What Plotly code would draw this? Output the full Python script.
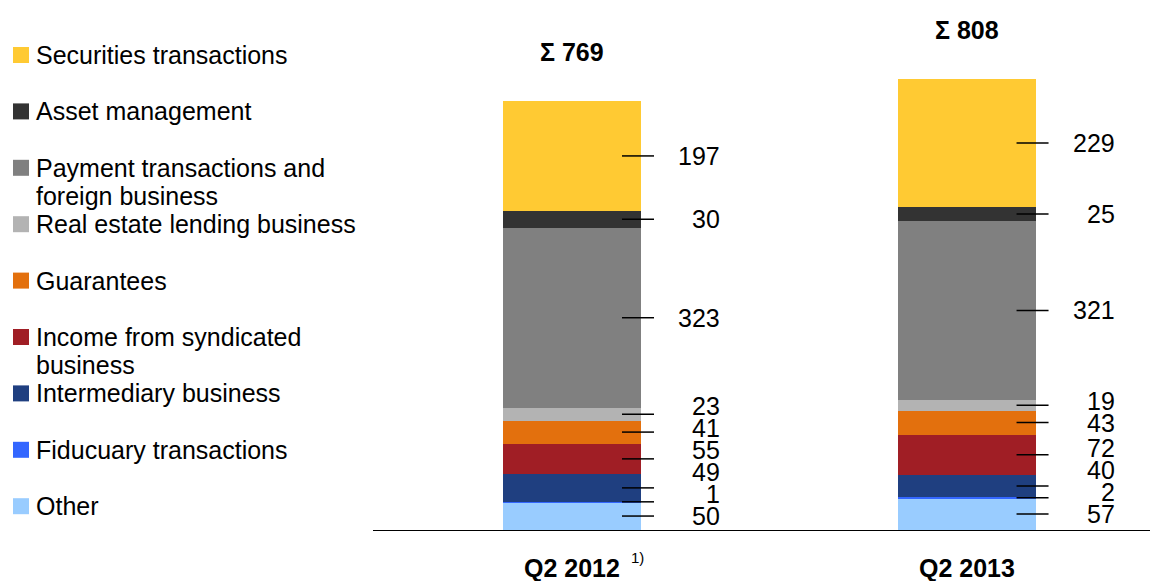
import plotly.graph_objects as go

# ---- data ----
categories = ["Q2 2012", "Q2 2013"]
footnotes = ["1)", ""]
totals = [769, 808]

# stack order bottom -> top
series_names = [
    "Other",
    "Fiducuary transactions",
    "Intermediary business",
    "Income from syndicated<br>business",
    "Guarantees",
    "Real estate lending business",
    "Payment transactions and<br>foreign business",
    "Asset management",
    "Securities transactions",
]
other = [50, 57]
fiduciary = [1, 2]
intermediary = [49, 40]
syndicated = [55, 72]
guarantees = [41, 43]
real_estate = [23, 19]
payment = [323, 321]
asset_mgmt = [30, 25]
securities = [197, 229]
series_values = [other, fiduciary, intermediary, syndicated, guarantees,
                 real_estate, payment, asset_mgmt, securities]
series_colors = ["#99CCFF", "#3366FF", "#1F3F80", "#A01E25", "#E3700D",
                 "#B3B3B3", "#808080", "#333333", "#FFCA33"]

# ---- layout constants ----
W, H = 1150, 581
ML, MR, MT, MB = 373, 0, 0, 51
Y_MAX = 950
PLOT_H = H - MT - MB
PX_PER_UNIT = PLOT_H / Y_MAX
X_RANGE = [-0.5044, 1.465]
PX_PER_X = (W - ML - MR) / (X_RANGE[1] - X_RANGE[0])
FONT = "Arial, Liberation Sans, sans-serif"
FS = 25

fig = go.Figure()
xs = list(range(len(categories)))
for name, vals, col in zip(series_names, series_values, series_colors):
    fig.add_trace(go.Bar(x=xs, y=vals, name=name, marker=dict(color=col, line=dict(width=0)),
                         width=0.35, showlegend=False, hoverinfo="skip"))

annotations = []
shapes = []
min_gap = 22 / PX_PER_UNIT
for i, cat in enumerate(categories):
    base = 0
    prev_label = None
    mids = []
    for vals in series_values:
        v = vals[i]
        mids.append(base + v / 2)
        base += v
    for k, vals in enumerate(series_values):
        mid = mids[k]
        # leader line
        shapes.append(dict(type="line", xref="x", yref="y",
                           x0=i + 50 / PX_PER_X, x1=i + 82 / PX_PER_X, y0=mid, y1=mid,
                           line=dict(color="black", width=1.5)))
        ly = mid if prev_label is None else max(mid, prev_label + min_gap)
        prev_label = ly
        annotations.append(dict(xref="x", yref="y", x=i + 150 / PX_PER_X, y=ly,
                                text=str(vals[i]), showarrow=False, xanchor="right",
                                yanchor="middle", font=dict(size=FS, color="black", family=FONT)))
    # totals
    annotations.append(dict(xref="x", yref="y", x=i, y=totals[i], yshift=49,
                            text="<b>\u03a3 %d</b>" % totals[i], showarrow=False,
                            xanchor="center", yanchor="middle",
                            font=dict(size=FS, color="black", family=FONT)))
    # category label
    annotations.append(dict(xref="x", yref="paper", x=i, y=0, yshift=-38,
                            text="<b>%s</b>" % cat, showarrow=False, xanchor="center",
                            yanchor="middle", font=dict(size=FS, color="black", family=FONT)))
    if footnotes[i]:
        annotations.append(dict(xref="x", yref="paper", x=i, y=0, xshift=57, yshift=-27,
                                text=footnotes[i], showarrow=False, xanchor="left",
                                yanchor="middle", font=dict(size=15, color="black", family=FONT)))

# manual legend (top -> bottom is reverse stack order)
for j, (name, col) in enumerate(zip(series_names[::-1], series_colors[::-1])):
    cy = 55 + 56.4 * j
    shapes.append(dict(type="rect", xref="paper", yref="paper",
                       x0=(13 - ML) / (W - ML), x1=(29 - ML) / (W - ML),
                       y0=(H - MB - (cy + 8)) / PLOT_H, y1=(H - MB - (cy - 8)) / PLOT_H,
                       fillcolor=col, line=dict(width=0)))
    for li, line in enumerate(name.split("<br>")):
        ly = cy + 28 * li
        annotations.append(dict(xref="paper", yref="paper",
                                x=(34 - ML) / (W - ML), y=(H - MB - ly) / PLOT_H,
                                text=line, showarrow=False, xanchor="left", yanchor="middle",
                                font=dict(size=FS, color="black", family=FONT)))

fig.update_layout(
    width=W, height=H, barmode="stack",
    margin=dict(l=ML, r=MR, t=MT, b=MB),
    paper_bgcolor="white", plot_bgcolor="white",
    xaxis=dict(range=X_RANGE, showline=True, linecolor="black", linewidth=1,
               showticklabels=False, ticks="", showgrid=False, zeroline=False),
    yaxis=dict(range=[0, Y_MAX], visible=False, showgrid=False, zeroline=False),
    annotations=annotations, shapes=shapes,
)
fig.write_html("out.html", config={"displayModeBar": False},
               post_script="document.body.style.margin='0';document.body.style.overflow='hidden';")
